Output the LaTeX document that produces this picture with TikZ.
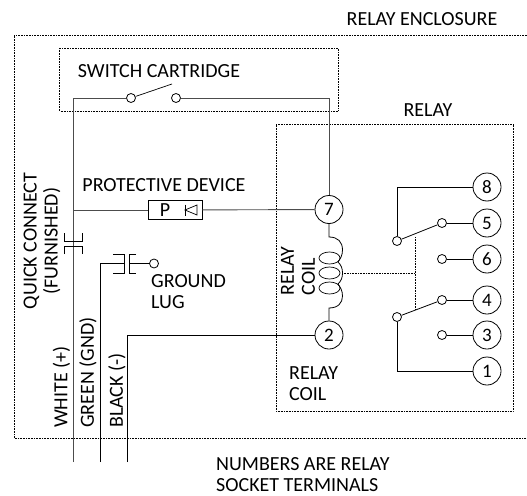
\documentclass[tikz,border=0pt]{standalone}
\usepackage{fontspec}
\setmainfont{Carlito}
\usepackage{tikz}
\definecolor{wire}{rgb}{0.3,0.3,0.3}
\begin{document}
\begin{tikzpicture}[x=1pt, y=-1pt, wire/.style = {draw=wire, line width=.9pt}, zone/.style = {draw=black, line width=.6pt, densely dotted}, terminal/.style = {shape=circle, draw=black, line width=.8pt, fill=white, inner sep=0pt, minimum size=28pt, font=\fontsize{19}{19}\selectfont}, contact/.style = {shape=circle, draw=black, line width=.8pt, fill=white, inner sep=0pt, minimum size=9pt}, label/.style = {align=left, inner sep=0pt, font=\fontsize{20}{21}\selectfont}, vlabel/.style = {label, rotate=90, anchor=west}]
	\useasboundingbox (0,0) rectangle (527,495);
	% dotted outlines
	\draw[zone] (527,35) -- (14,35) -- (14,438) -- (527,438);
	\draw[zone] (59.5,48) rectangle (338,111);
	\draw[zone] (276,124.5) rectangle (513,411);
	\draw[zone] (415,237) -- (415,310);
	\draw[zone] (342,273) -- (415,273);
	% nodes
	\node[contact] (swa) at (131,98) {};
	\node[contact] (swb) at (176,98) {};
	\node[terminal] (t7) at (329,209.5) {7};
	\node[terminal] (t2) at (329,335) {2};
	\node[terminal] (t8) at (487,187) {8};
	\node[terminal] (t5) at (487,223) {5};
	\node[terminal] (t6) at (487,259) {6};
	\node[terminal] (t4) at (487,300) {4};
	\node[terminal] (t3) at (487,335) {3};
	\node[terminal] (t1) at (487,371) {1};
	\node[contact] (c5) at (442,223) {};
	\node[contact] (c6) at (442,259) {};
	\node[contact] (c4) at (442,300) {};
	\node[contact] (c3) at (442,335) {};
	\node[contact] (armA) at (397,241) {};
	\node[contact] (armB) at (397,317) {};
	\node[contact] (lug) at (154,263.5) {};
	\node[shape=rectangle, draw=black, line width=.8pt, minimum width=54pt, minimum height=18.5pt, inner sep=0pt] (prot) at (175,210) {};
	\node[font=\fontsize{20}{20}\selectfont, inner sep=0pt] (protP) at (165,210) {P};
	\coordinate (whiteTop) at (73,98);
	\coordinate (whiteEnd) at (73,462);
	\coordinate (whiteTap) at (73,210);
	\coordinate (greenEnd) at (100,462);
	\coordinate (greenTop) at (100,263.5);
	\coordinate (blackEnd) at (127,462);
	\coordinate (coilTop) at (329,237);
	\coordinate (coilBot) at (329,308);
	% wires
	\draw[wire] (whiteEnd) -- (whiteTop) -- (swa);
	\draw[wire] (swb) -- (329,98) -- (t7);
	\draw[wire] (whiteTap) -- (prot);
	\draw[wire] (prot) -- (t7);
	\draw[line width=.8pt] (greenEnd) -- (greenTop) -- (124,263.5);
	\draw[line width=.8pt] (129,263.5) -- (lug);
	\draw[line width=.8pt] (blackEnd) -- (127,335) -- (t2);
	\draw[line width=.7pt] (swa) -- (172,84);
	% relay contacts
	\draw[line width=.8pt] (t8) -| (armA);
	\draw[line width=.8pt] (t1) -| (armB);
	\draw[line width=.8pt] (armA) -- (c5);
	\draw[line width=.8pt] (armB) -- (c4);
	\foreach \n in {5,6,4,3}
		\draw[line width=.8pt] (c\n) -- (t\n);
	% coil
	\draw[line width=.8pt] (t7) -- (coilTop) .. controls (338,237) and (342.5,242) .. (342.5,250) .. controls (342.5,256) and (340,259) .. (338,262) .. controls (341,265) and (342.5,268) .. (342.5,273) .. controls (342.5,278) and (341,281) .. (338,284) .. controls (340,287) and (342.5,290) .. (342.5,296) .. controls (342.5,303) and (338,308) .. (coilBot) -- (t2);
	\foreach \y in {258,273,288}
		\draw[line width=.7pt] (329.5,\y) ellipse (10.5 and 6);
	% quick connects
	\draw[line width=.8pt] (64,233) -- (64,241) -- (82,241) -- (82,233);
	\draw[line width=.8pt] (64,254) -- (64,246) -- (82,246) -- (82,254);
	\draw[line width=.8pt] (113,254.5) -- (124,254.5) -- (124,273) -- (113,273);
	\draw[line width=.8pt] (136,254.5) -- (129,254.5) -- (129,273) -- (136,273);
	% diode
	\draw[line width=.7pt] (185,204.5) -- (185,215.5);
	\draw[line width=.7pt] (197,205) -- (185,210) -- (197,215) -- cycle;
	% labels
	\node[label, anchor=center] (lenc) at (422,19) {RELAY ENCLOSURE};
	\node[label, anchor=center] (lrelay) at (428,110) {RELAY};
	\node[label, anchor=center] (lsw) at (159,71) {SWITCH CARTRIDGE};
	\node[label, anchor=center] (lprot) at (164,185) {PROTECTIVE DEVICE};
	\node[label, anchor=west] (llug) at (151,291.5) {GROUND\\LUG};
	\node[label, anchor=west] (lcoil) at (289,383.5) {RELAY\\COIL};
	\node[label, anchor=west] (lnum) at (216,474.5) {NUMBERS ARE RELAY\\SOCKET TERMINALS};
	\node[label, rotate=90, anchor=center, align=center] (lqc) at (42,241) {QUICK CONNECT\\(FURNISHED)};
	\node[vlabel] (lrc) at (298,295.5) {RELAY\\COIL};
	\node[vlabel] (lwh) at (61.5,428) {WHITE (+)};
	\node[vlabel] (lgr) at (88,428) {GREEN (GND)};
	\node[vlabel] (lbl) at (117,428) {BLACK (-)};
\end{tikzpicture}
\end{document}
